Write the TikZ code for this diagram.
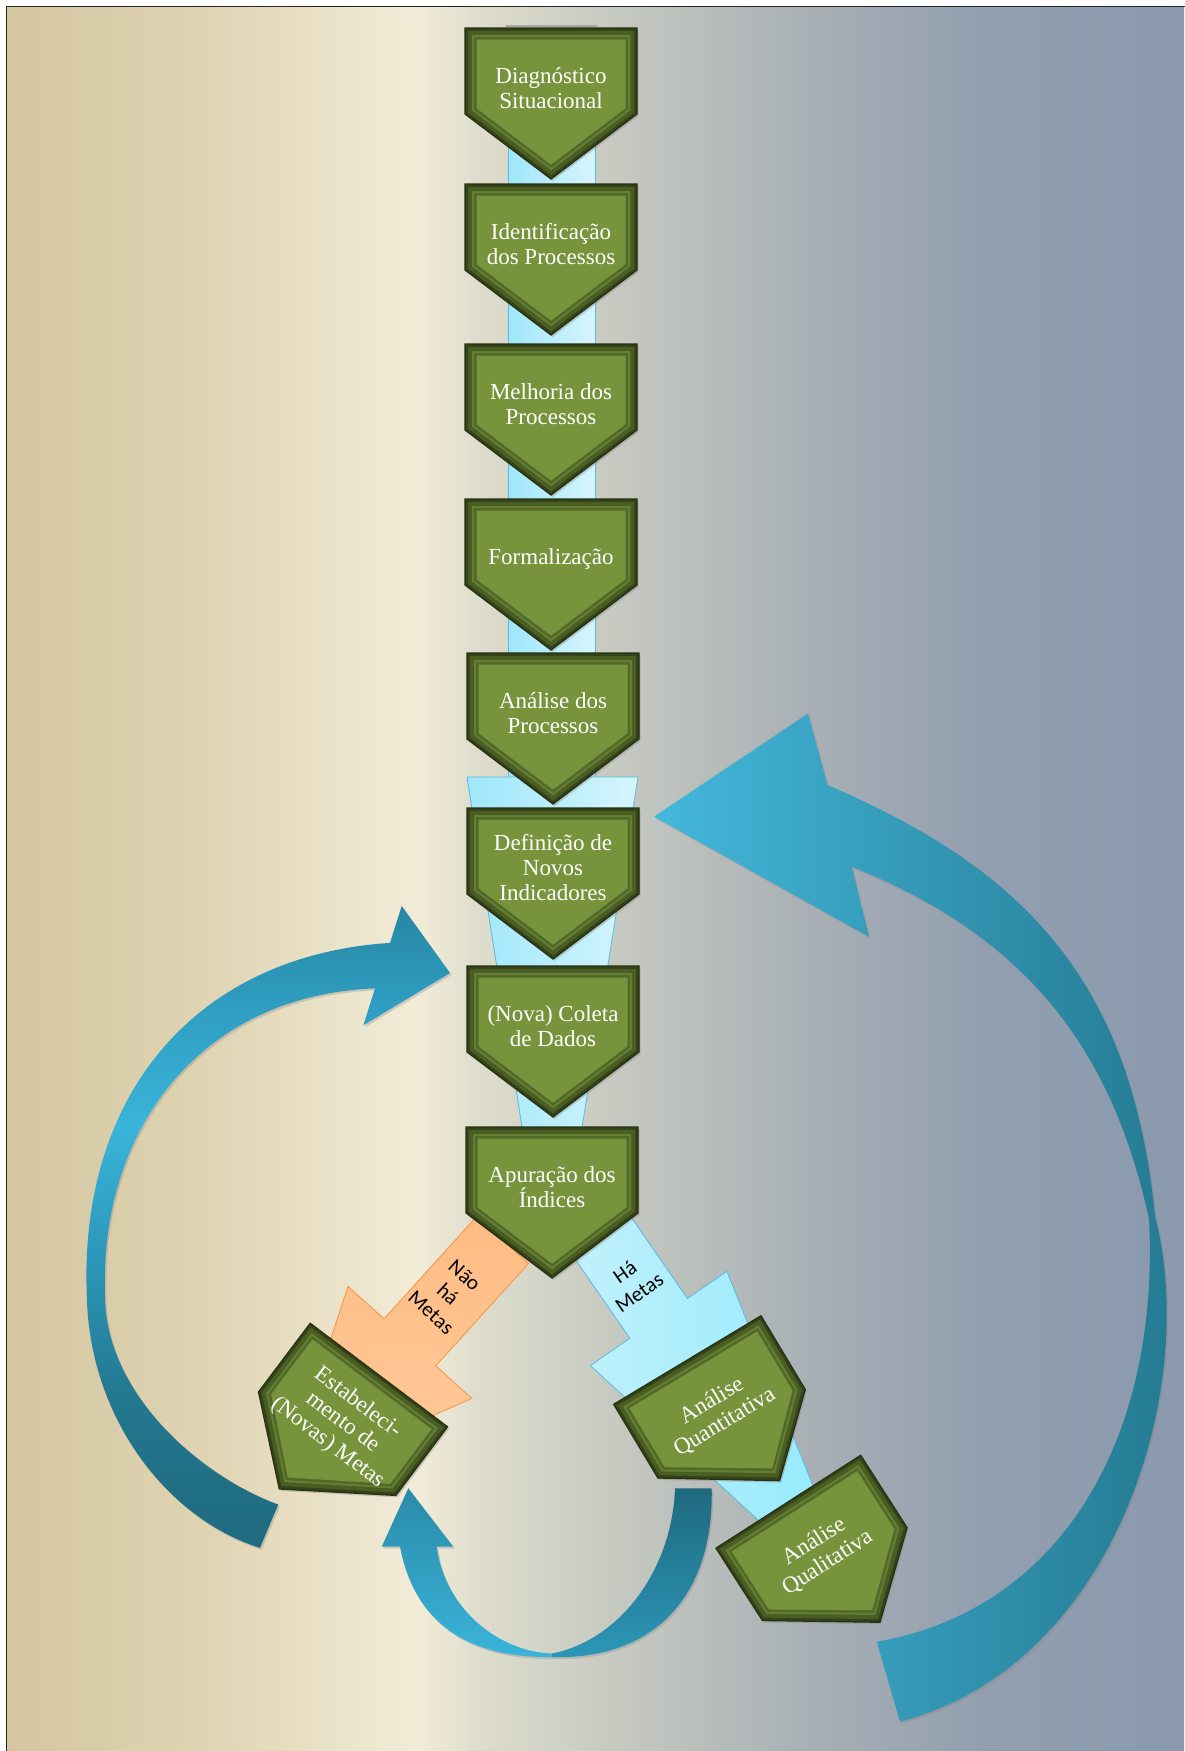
\documentclass[tikz,border=0pt]{standalone}
\usepackage{fontspec}
\setmainfont{Liberation Serif}
\newfontfamily\lblfont{Carlito}
\usetikzlibrary{shadows}

\definecolor{bg0}{HTML}{D4C6A0}
\definecolor{bg1}{HTML}{DFD4B3}
\definecolor{bg2}{HTML}{F2ECD8}
\definecolor{bg3}{HTML}{DEDDCD}
\definecolor{bg4}{HTML}{C6C9C1}
\definecolor{bg5}{HTML}{A9B0B5}
\definecolor{bg6}{HTML}{929FAF}
\definecolor{bg7}{HTML}{8A99AE}
\definecolor{la0}{HTML}{1F6A7F}
\definecolor{la1}{HTML}{23778E}
\definecolor{la2}{HTML}{2C98BB}
\definecolor{la3}{HTML}{3AB4DA}
\definecolor{la4}{HTML}{2E9DC0}
\definecolor{la5}{HTML}{2886A3}
\definecolor{chevA}{HTML}{34431A}
\definecolor{chevB}{HTML}{4A5E24}
\definecolor{chevC}{HTML}{657F32}
\definecolor{chevD}{HTML}{52692A}
\definecolor{chevE}{HTML}{77933C}
\definecolor{chevEdge}{HTML}{26300F}
\definecolor{lbA}{HTML}{9EE7FB}
\definecolor{lbB}{HTML}{D6F5FD}
\definecolor{lbLine}{HTML}{5BB9DA}
\definecolor{orA}{HTML}{FFBC83}
\definecolor{orB}{HTML}{FFCB9C}
\definecolor{orLine}{HTML}{F69240}

\pgfdeclarehorizontalshading{bgshade}{100bp}{color(0bp)=(bg0); color(25bp)=(bg0); color(33.5bp)=(bg1); color(42.5bp)=(bg2); color(45bp)=(bg3); color(51bp)=(bg4); color(59bp)=(bg5); color(66.5bp)=(bg6); color(75bp)=(bg7); color(100bp)=(bg7)}
\pgfdeclareverticalshading{leftarcshade}{100bp}{color(0bp)=(la0); color(25bp)=(la0); color(36.5bp)=(la1); color(48bp)=(la2); color(58bp)=(la3); color(67.5bp)=(la4); color(75bp)=(la5); color(100bp)=(la5)}

\newcommand\chevpoly[2]{(-86+#1,#1) -- (86-#1,#1) -- (86-#1,86-0.5*#1) -- (#2,151-1.25*#1) -- (-86+#1,86-0.5*#1) -- cycle}

\tikzset{
  boxtext/.style={text=white, align=center, inner sep=0pt, font=\fontsize{23}{25}\selectfont},
  lbl/.style={text=black, align=center, inner sep=0pt, font=\lblfont\fontsize{21}{25}\selectfont},
  arcshadow/.style={drop shadow={opacity=0.3, shadow xshift=1.5pt, shadow yshift=-2pt}}
}

\newcommand\greenchev[6]{%
  \begin{scope}[shift={(#2,#3)}, rotate=#4]
    \fill[chevA, drop shadow={opacity=0.35, shadow xshift=1.5pt, shadow yshift=-2pt}] \chevpoly{0}{#5};
    \fill[chevB] \chevpoly{3}{#5};
    \fill[chevC] \chevpoly{7}{#5};
    \fill[chevD] \chevpoly{9}{#5};
    \fill[chevE] \chevpoly{11.5}{#5};
    \draw[chevEdge, line width=1.2pt, line join=miter] \chevpoly{0}{#5};
    \node[boxtext, rotate=#4] (#1) at (0,60) {#6};
  \end{scope}}

\begin{document}
\begin{tikzpicture}[x=1pt, y=-1pt]
\useasboundingbox (0,0) rectangle (1184,1751);
\fill[white] (0,0) rectangle (1184,1751);
% background
\shade[shading=bgshade] (6,6) rectangle (1184,1751);
\draw[black!85, line width=1.5pt] (6.5,1760) -- (6.5,6.5) -- (1195,6.5);
\draw[black!35, line width=2pt] (506,26) -- (597,26);

% light blue column
\shade[left color=lbA, right color=lbB, draw=lbLine, line width=0.8pt]
  (508,30) -- (595,30) -- (595,790) -- (508,790) -- cycle;
\shade[left color=lbA, right color=lbB, draw=lbLine, line width=0.8pt]
  (467,777) -- (638,777) -- (580,1140) -- (524,1140) -- cycle;

% big right circular arrow (twisted ribbon)
\shade[left color=la3!95!white, middle color=la4, right color=la1, arcshadow]
  (654,816.6) -- (808,713.5) -- (827.4,785)
  .. controls (1029,871) and (1132,985) .. (1155,1216)
  .. controls (1200,1390) and (1115,1665) .. (900,1721.7)
  -- (876.7,1641.7)
  .. controls (1060,1610) and (1160,1440) .. (1149,1219)
  .. controls (1112.6,1051.4) and (1028.4,937) .. (851.7,866.7)
  -- (869,936.7) -- cycle;

% big left circular arrow
\shade[shading=leftarcshade, arcshadow]
  (450,973) -- (401.7,906) -- (390,942.9)
  .. controls (200,955) and (80,1090) .. (86.7,1292)
  .. controls (88,1420) and (170,1520) .. (260,1547.8)
  -- (278.3,1504.5)
  .. controls (200,1476) and (103,1392) .. (105,1292)
  .. controls (100,1130) and (200,995) .. (375,988.4)
  -- (363.3,1025.3) -- cycle;

% bottom U arrow, left (head) half
\shade[top color=la5!90!la3, bottom color=la3, arcshadow]
  (408.3,1488.3) -- (381.7,1546.7) -- (400,1546.7)
  .. controls (415,1625) and (470,1658) .. (552,1657)
  -- (552,1653.5)
  .. controls (500,1652) and (445,1610) .. (436.7,1546.7)
  -- (453.3,1546.7) -- cycle;
% bottom U arrow, right (tail) half
\shade[top color=la0, bottom color=la4!85!la1, arcshadow]
  (552,1657) .. controls (650,1660) and (714,1600) .. (711.7,1488.3)
  -- (675,1488.3)
  .. controls (672,1570) and (620,1640) .. (552,1653.5) -- cycle;

% "Nao ha Metas" orange block arrow
\shade[top color=orA, bottom color=orB, draw=orLine, line width=0.8pt, line join=miter]
  (476.7,1216.5) -- (528.5,1263.5) -- (435.8,1365.8) -- (471.8,1398.4) -- (284.2,1480.9) -- (348,1286.4) -- (384,1318.8) -- cycle;
% "Ha Metas" light blue block arrow
\shade[left color=lbB!70!lbA, right color=lbA!90!cyan, draw=lbLine, line width=0.8pt, line join=miter]
  (551.4,1224.7) -- (609,1184.9) -- (687.4,1298.5) -- (726.9,1271.3) -- (867.1,1620.4) -- (590.3,1365.5) -- (629.8,1338.3) -- cycle;

% green chevrons
\greenchev{b1}{551}{28}{0}{0}{Diagnóstico\\Situacional}
\greenchev{b2}{551}{184}{0}{0}{Identificação\\dos Processos}
\greenchev{b3}{551}{344}{0}{0}{Melhoria dos\\Processos}
\greenchev{b4}{551}{499}{0}{0}{Formalização}
\greenchev{b5}{553}{653}{0}{0}{Análise dos\\Processos}
\greenchev{b6}{553}{808}{0}{0}{Definição de\\Novos\\Indicadores}
\greenchev{b7}{553}{966}{0}{0}{(Nova) Coleta\\de Dados}
\greenchev{b8}{552}{1127}{0}{0}{Apuração dos\\Índices}
\greenchev{p1}{378.9}{1375}{-37}{-11}{Estabeleci-\\mento de\\(Novas) Metas}
\greenchev{p2}{687.3}{1360}{31}{17}{Análise\\Quantitativa}
\greenchev{p3}{788.3}{1501.7}{32.7}{12}{Análise\\Qualitativa}

% arrow labels
\node[lbl, rotate=-42] (l1) at (448,1294) {Não\\há\\Metas};
\node[lbl, rotate=35] (l2) at (632,1282) {Há\\Metas};
\end{tikzpicture}
\end{document}
